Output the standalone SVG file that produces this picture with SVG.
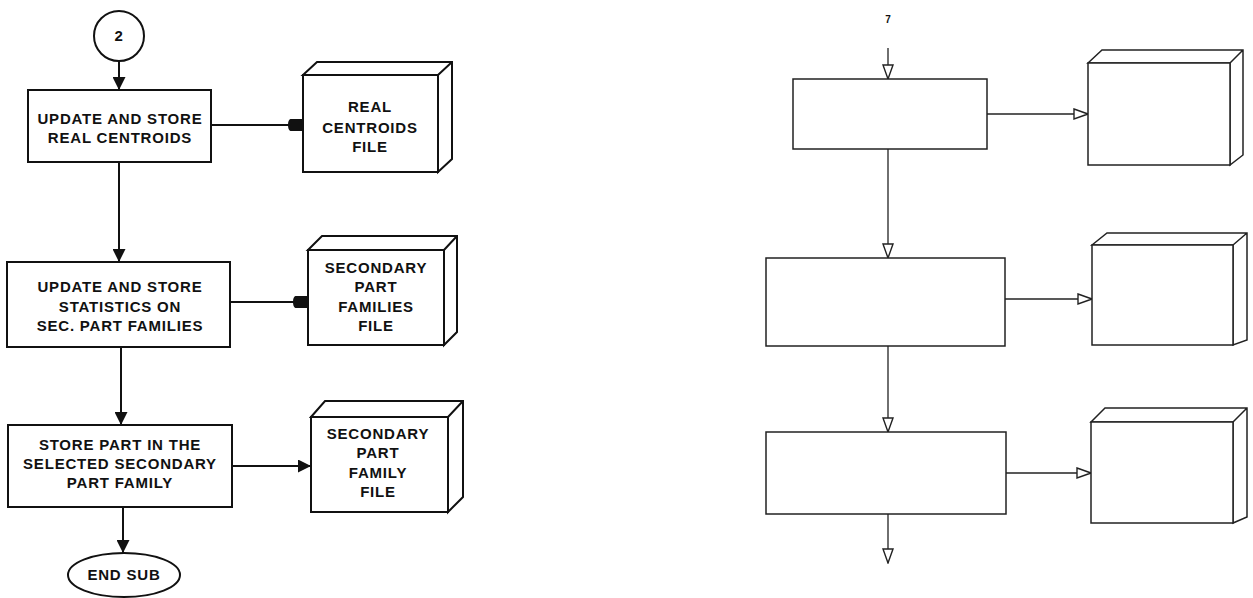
<svg xmlns="http://www.w3.org/2000/svg" width="1253" height="598" viewBox="0 0 1253 598">
<style>
.l{fill:#fff;stroke:#111;stroke-width:2}
.r{fill:#fff;stroke:#222;stroke-width:1.5}
.c{fill:none;stroke:#111;stroke-width:2}
.cr{fill:none;stroke:#222;stroke-width:1.3}
.t{font-family:"Liberation Sans",Arial,sans-serif;font-weight:bold;font-size:15px;fill:#111;text-anchor:middle;letter-spacing:0.8px}
</style>
<defs>
<marker id="fa" viewBox="0 0 10 10" refX="10" refY="5" markerWidth="13" markerHeight="13" markerUnits="userSpaceOnUse" orient="auto"><path d="M0,0 L10,5 L0,10 Z" fill="#111"/></marker>
<marker id="sq" viewBox="0 0 12 10" refX="12" refY="5" markerWidth="15" markerHeight="12.5" markerUnits="userSpaceOnUse" orient="auto"><path d="M3,0 L12,0 L12,10 L3,10 Q0,10 0,5 Q0,0 3,0 Z" fill="#111"/></marker>
<marker id="ha" viewBox="0 0 16 12" refX="15" refY="6" markerWidth="16" markerHeight="12" markerUnits="userSpaceOnUse" orient="auto"><path d="M1,1 L15,6 L1,11 Z" fill="#fff" stroke="#222" stroke-width="1.4"/></marker>
</defs>

<g id="connectors">
<line class="c" x1="119" y1="62" x2="119" y2="90" marker-end="url(#fa)"/>
<line class="c" x1="211" y1="125" x2="303" y2="125" marker-end="url(#sq)"/>
<line class="c" x1="119" y1="162" x2="119" y2="262" marker-end="url(#fa)"/>
<line class="c" x1="230" y1="302" x2="308" y2="302" marker-end="url(#sq)"/>
<line class="c" x1="121" y1="347" x2="121" y2="425" marker-end="url(#fa)"/>
<line class="c" x1="232" y1="466" x2="311" y2="466" marker-end="url(#fa)"/>
<line class="c" x1="123" y1="507" x2="123" y2="553" marker-end="url(#fa)"/>

<line class="cr" x1="888" y1="48" x2="888" y2="79" marker-end="url(#ha)"/>
<line class="cr" x1="987" y1="114" x2="1088" y2="114" marker-end="url(#ha)"/>
<line class="cr" x1="888" y1="149" x2="888" y2="258" marker-end="url(#ha)"/>
<line class="cr" x1="1005" y1="299" x2="1092" y2="299" marker-end="url(#ha)"/>
<line class="cr" x1="888" y1="346" x2="888" y2="432" marker-end="url(#ha)"/>
<line class="cr" x1="1006" y1="473" x2="1091" y2="473" marker-end="url(#ha)"/>
<line class="cr" x1="888" y1="514" x2="888" y2="563" marker-end="url(#ha)"/>
</g>

<g id="start">
<circle class="l" cx="119" cy="36" r="25"/>
<text class="t" x="119" y="41">2</text>
</g>

<g id="box1">
<rect class="l" x="28" y="90" width="183" height="72"/>
<text class="t" x="120" y="124">UPDATE AND STORE</text>
<text class="t" x="120" y="143">REAL CENTROIDS</text>
</g>

<g id="file1">
<path class="l" d="M303,75 L317,62 L452,62 L452,159 L438,172 L438,75 Z M438,75 L452,62"/>
<rect class="l" x="303" y="75" width="135" height="97"/>
<text class="t" x="370" y="112">REAL</text>
<text class="t" x="370" y="133">CENTROIDS</text>
<text class="t" x="370" y="152">FILE</text>
</g>

<g id="box2">
<rect class="l" x="7" y="262" width="223" height="85"/>
<text class="t" x="120" y="292">UPDATE AND STORE</text>
<text class="t" x="120" y="312">STATISTICS ON</text>
<text class="t" x="120" y="331">SEC. PART FAMILIES</text>
</g>

<g id="file2">
<path class="l" d="M308,250 L322,236 L457,236 L457,332 L444,345 L444,250 Z M444,250 L457,236"/>
<rect class="l" x="308" y="250" width="136" height="95"/>
<text class="t" x="376" y="273">SECONDARY</text>
<text class="t" x="376" y="292">PART</text>
<text class="t" x="376" y="312">FAMILIES</text>
<text class="t" x="376" y="331">FILE</text>
</g>

<g id="box3">
<rect class="l" x="8" y="425" width="224" height="82"/>
<text class="t" x="120" y="450">STORE PART IN THE</text>
<text class="t" x="120" y="469">SELECTED SECONDARY</text>
<text class="t" x="120" y="488">PART FAMILY</text>
</g>

<g id="file3">
<path class="l" d="M311,417 L325,401 L463,401 L463,497 L448,512 L448,417 Z M448,417 L463,401"/>
<rect class="l" x="311" y="417" width="137" height="95"/>
<text class="t" x="378" y="439">SECONDARY</text>
<text class="t" x="378" y="458">PART</text>
<text class="t" x="378" y="478">FAMILY</text>
<text class="t" x="378" y="497">FILE</text>
</g>

<g id="end">
<ellipse class="l" cx="124" cy="575" rx="56" ry="22"/>
<text class="t" x="124" y="580">END SUB</text>
</g>

<g id="rlabel">
<text class="t" x="888" y="23" style="font-size:10px;letter-spacing:0">7</text>
</g>

<g id="rbox1"><rect class="r" x="793" y="79" width="194" height="70"/></g>
<g id="rfile1">
<path class="r" d="M1088,63 L1102,50 L1243,50 L1243,155 L1230,165 L1230,63 Z M1230,63 L1243,50"/>
<rect class="r" x="1088" y="63" width="142" height="102"/>
</g>

<g id="rbox2"><rect class="r" x="766" y="258" width="239" height="88"/></g>
<g id="rfile2">
<path class="r" d="M1092,245 L1107,233 L1247,233 L1247,340 L1233,345 L1233,245 Z M1233,245 L1247,233"/>
<rect class="r" x="1092" y="245" width="141" height="100"/>
</g>

<g id="rbox3"><rect class="r" x="766" y="432" width="240" height="82"/></g>
<g id="rfile3">
<path class="r" d="M1091,422 L1105,408 L1247,408 L1247,517 L1233,523 L1233,422 Z M1233,422 L1247,408"/>
<rect class="r" x="1091" y="422" width="142" height="101"/>
</g>
</svg>
